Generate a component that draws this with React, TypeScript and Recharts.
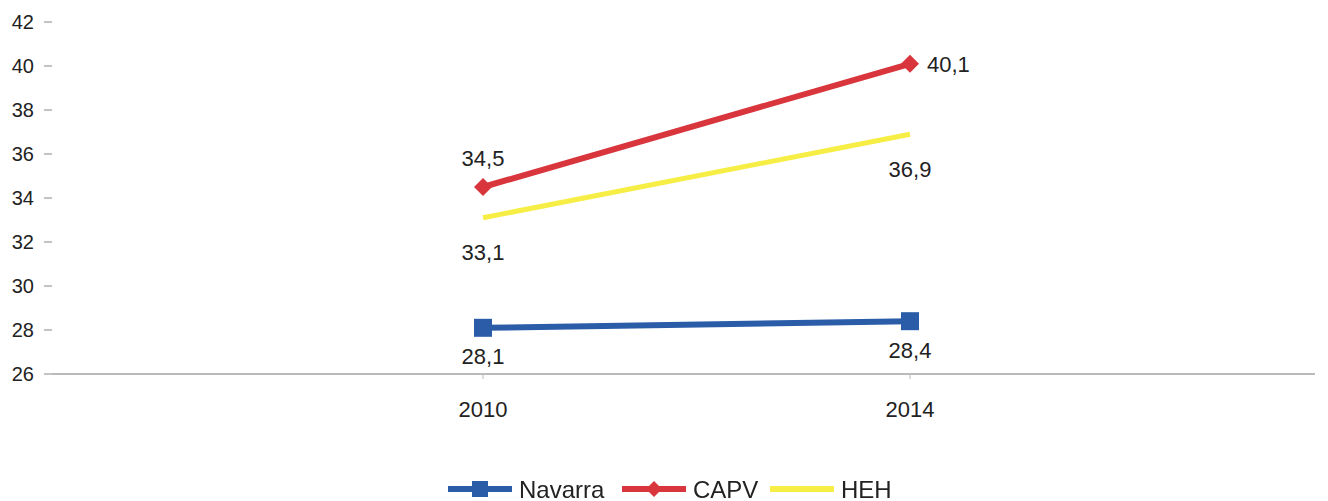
import React from "react";
import { LineChart, Line, XAxis, YAxis, ReferenceLine } from "recharts";

const years = ["2010", "2014"];
const navarra = [28.1, 28.4];
const capv = [34.5, 40.1];
const heh = [33.1, 36.9];
const yTicks = [26, 28, 30, 32, 34, 36, 38, 40, 42];

const data = years.map((y, i) => ({
  year: y,
  Navarra: navarra[i],
  CAPV: capv[i],
  HEH: heh[i],
}));

const BLUE = "#2b5ca8";
const RED = "#d8353d";
const YELLOW = "#f6ee45";
const FONT = "'Liberation Sans', Arial, sans-serif";

const fmt = (v: number) => v.toFixed(1).replace(".", ",");

const SquareDot = (props: any) => {
  const { cx, cy } = props;
  if (cx == null || cy == null) return null;
  return <rect x={cx - 9} y={cy - 9} width={18} height={18} fill={BLUE} />;
};

const DiamondDot = (props: any) => {
  const { cx, cy } = props;
  if (cx == null || cy == null) return null;
  const r = 9;
  return (
    <polygon
      points={`${cx},${cy - r} ${cx + r},${cy} ${cx},${cy + r} ${cx - r},${cy}`}
      fill={RED}
    />
  );
};

const labelText = (x: number, y: number, v: number, anchor = "middle") => (
  <text
    x={x}
    y={y}
    textAnchor={anchor}
    dominantBaseline="central"
    fontSize={22}
    fontFamily={FONT}
    fill="#222"
  >
    {fmt(v)}
  </text>
);

const NavLabel = (props: any) => {
  const { x, y, value } = props;
  return labelText(x, y + 29, value);
};

const CapvLabel = (props: any) => {
  const { x, y, value, index } = props;
  if (index === 1) return labelText(x + 17, y + 1, value, "start");
  return labelText(x, y - 29, value);
};

const HehLabel = (props: any) => {
  const { x, y, value } = props;
  return labelText(x, y + 35, value);
};

const Legend = () => {
  const items = [
    { name: "Navarra", color: BLUE, mark: "square", x: 448 },
    { name: "CAPV", color: RED, mark: "diamond", x: 622 },
    { name: "HEH", color: YELLOW, mark: "none", x: 770 },
  ];
  return (
    <svg width={1328} height={30} style={{ position: "absolute", left: 0, top: 475 }}>
      {items.map((it) => (
        <g key={it.name}>
          <line x1={it.x} x2={it.x + 64} y1={14} y2={14} stroke={it.color} strokeWidth={6} />
          {it.mark === "square" && (
            <rect x={it.x + 24} y={6} width={16} height={16} fill={it.color} />
          )}
          {it.mark === "diamond" && (
            <polygon
              points={`${it.x + 32},${6} ${it.x + 40},${14} ${it.x + 32},${22} ${it.x + 24},${14}`}
              fill={it.color}
            />
          )}
          <text
            x={it.x + 71}
            y={14}
            dominantBaseline="central"
            fontSize={24}
            fontFamily={FONT}
            fill="#222"
          >
            {it.name}
          </text>
        </g>
      ))}
    </svg>
  );
};

export default function App() {
  return (
    <div style={{ position: "fixed", left: 0, top: 0, width: 1328, height: 501, background: "#fff" }}>
      <LineChart
        width={1328}
        height={501}
        data={data}
        margin={{ top: 22, right: 13, left: 0, bottom: 97 }}
      >
        <XAxis
          dataKey="year"
          padding={{ left: 431, right: 405 }}
          axisLine={false}
          tickLine={{ stroke: "#bbb" }}
          tickSize={5}
          tickMargin={22}
          tick={{ fontSize: 22, fontFamily: FONT, fill: "#222" }}
        />
        <YAxis
          domain={[26, 42]}
          ticks={yTicks}
          width={52}
          axisLine={false}
          tickLine={{ stroke: "#888" }}
          tickSize={8}
          tickMargin={10}
          tick={{ fontSize: 20, fontFamily: FONT, fill: "#222" }}
        />
        <ReferenceLine y={26} stroke="#777" strokeWidth={1.2} />
        <Line
          dataKey="HEH"
          stroke={YELLOW}
          strokeWidth={5}
          dot={false}
          activeDot={false}
          label={<HehLabel />}
          isAnimationActive={false}
        />
        <Line
          dataKey="CAPV"
          stroke={RED}
          strokeWidth={6}
          dot={<DiamondDot />}
          activeDot={false}
          label={<CapvLabel />}
          isAnimationActive={false}
        />
        <Line
          dataKey="Navarra"
          stroke={BLUE}
          strokeWidth={6}
          dot={<SquareDot />}
          activeDot={false}
          label={<NavLabel />}
          isAnimationActive={false}
        />
      </LineChart>
      <Legend />
    </div>
  );
}
